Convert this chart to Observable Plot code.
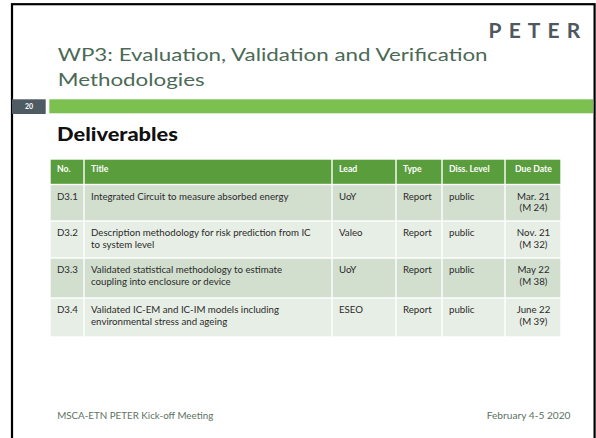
<!DOCTYPE html>
<html><head><meta charset="utf-8">
<script src="https://cdn.jsdelivr.net/npm/d3@7"></script>
<script src="https://cdn.jsdelivr.net/npm/@observablehq/plot@0.6"></script>
<style>
html,body{margin:0;padding:0;background:#fff;}
#chart{width:596px;height:438px;overflow:hidden;}
</style></head><body><div id="chart"></div>
<script>
// ---------- content ----------
const slideTitle = ["WP3: Evaluation, Validation and Verification", "Methodologies"];
const slideNumber = "20";
const sectionHeading = "Deliverables";
const columns = ["No.", "Title", "Lead", "Type", "Diss. Level", "Due Date"];
const numbers = ["D3.1", "D3.2", "D3.3", "D3.4"];
const titles = [
  "Integrated Circuit to measure absorbed energy",
  "Description methodology for risk prediction from IC\nto system level",
  "Validated statistical methodology to estimate\ncoupling into enclosure or device",
  "Validated IC-EM and IC-IM models including\nenvironmental stress and ageing"
];
const leads = ["UoY", "Valeo", "UoY", "ESEO"];
const types = ["Report", "Report", "Report", "Report"];
const levels = ["public", "public", "public", "public"];
const dueDates = ["Mar. 21\n(M 24)", "Nov. 21\n(M 32)", "May 22\n(M 38)", "June 22\n(M 39)"];
const footerLeft = "MSCA-ETN PETER Kick-off Meeting";
const footerRight = "February 4-5 2020";
const logoText = "PETER";

// ---------- layout & style ----------
const W = 596, H = 438;
const FONT = "Lato, 'Open Sans', sans-serif";
const colWidths = [34, 248, 64, 46, 63, 56];
const tableLeft = 50, headerTop = 159, headerHeight = 25.5;
const rowHeights = [36.5, 37, 40, 39];
const colors = {
  title: "#4b6a55", footer: "#5d7263", header: "#5a9d3c", rowDark: "#d2dfcf", rowLight: "#e7eee5",
  bar: "#7cc04f", numBox: "#4f5b63", body: "#2b2b2b", logo: "#4f585e"
};

const colX = [tableLeft];
colWidths.forEach(w => colX.push(colX[colX.length - 1] + w));
const rowY = [headerTop + headerHeight];
rowHeights.forEach(h => rowY.push(rowY[rowY.length - 1] + h));

const rowsData = numbers.map((n, i) => [n, titles[i], leads[i], types[i], levels[i], dueDates[i]]);

const cells = [];
columns.forEach((c, j) => cells.push({x1: colX[j], x2: colX[j + 1], y1: headerTop, y2: headerTop + headerHeight, fill: colors.header}));
rowsData.forEach((row, i) => row.forEach((v, j) => cells.push({
  x1: colX[j], x2: colX[j + 1], y1: rowY[i], y2: rowY[i + 1], fill: i % 2 === 0 ? colors.rowDark : colors.rowLight
})));

const pad = 6.5;
const headerText = columns.map((c, j) => ({
  x: j === 5 ? (colX[j] + colX[j + 1]) / 2 : colX[j] + pad, y: headerTop + 6.7, text: c, center: j === 5
}));
const bodyText = [];
rowsData.forEach((row, i) => row.forEach((v, j) => bodyText.push({
  x: j === 5 ? (colX[j] + colX[j + 1]) / 2 : colX[j] + pad, y: rowY[i] + 6.2, text: v, center: j === 5
})));

const deco = [
  {x1: 49.3, x2: 593, y1: 99.3, y2: 113.3, fill: colors.bar},
  {x1: 12, x2: 45.7, y1: 99.3, y2: 114, fill: colors.numBox}
];

const plot = Plot.plot({
  width: W, height: H, margin: 0,
  x: {domain: [0, W], range: [0, W], axis: null},
  y: {domain: [0, H], range: [0, H], axis: null},
  color: {type: "identity"},
  style: {fontFamily: FONT, background: "transparent"},
  marks: [
    Plot.rect([{x1: 12, x2: 594.6, y1: 4.2, y2: 450}], {x1: "x1", x2: "x2", y1: "y1", y2: "y2", fill: "none", stroke: "#000", strokeWidth: 2.2}),
    Plot.rect(deco, {x1: "x1", x2: "x2", y1: "y1", y2: "y2", fill: "fill"}),
    Plot.text([slideNumber], {x: () => 28.5, y: () => 108.5, text: d => d, fill: "#fff", fontSize: 7, fontWeight: "bold", textAnchor: "middle", lineAnchor: "bottom"}),
    Plot.text([slideTitle[0]], {x: () => 57.3, y: () => 60, text: d => d, fill: colors.title, fontSize: 17.2, textAnchor: "start", lineAnchor: "bottom"}),
    Plot.text([slideTitle[1]], {x: () => 57.3, y: () => 85.5, text: d => d, fill: colors.title, fontSize: 17.2, textAnchor: "start", lineAnchor: "bottom"}),
    Plot.text([logoText], {x: () => 488, y: () => 37, text: d => d, fill: colors.logo, fontSize: 21, fontWeight: "bold", textAnchor: "start", lineAnchor: "bottom"}),
    Plot.text([sectionHeading], {x: () => 56.5, y: () => 140, text: d => d, fill: "#111", fontSize: 19, fontWeight: 900, textAnchor: "start", lineAnchor: "bottom"}),
    Plot.rect(cells, {x1: "x1", x2: "x2", y1: "y1", y2: "y2", fill: "fill", inset: 0.7}),
    Plot.text(headerText.filter(d => !d.center), {x: "x", y: "y", text: "text", fill: "#fff", fontSize: 8.7, fontWeight: "bold", textAnchor: "start", lineAnchor: "top"}),
    Plot.text(headerText.filter(d => d.center), {x: "x", y: "y", text: "text", fill: "#fff", fontSize: 8.7, fontWeight: "bold", textAnchor: "middle", lineAnchor: "top"}),
    Plot.text(bodyText.filter(d => !d.center), {x: "x", y: "y", text: "text", fill: colors.body, fontSize: 9.7, lineHeight: 1.22, textAnchor: "start", lineAnchor: "top"}),
    Plot.text(bodyText.filter(d => d.center), {x: "x", y: "y", text: "text", fill: colors.body, fontSize: 9.7, lineHeight: 1.22, textAnchor: "middle", lineAnchor: "top"}),
    Plot.text([footerLeft], {x: () => 56.7, y: () => 418.3, text: d => d, fill: colors.footer, fontSize: 8.6, textAnchor: "start", lineAnchor: "bottom"}),
    Plot.text([footerRight], {x: () => 570, y: () => 418.3, text: d => d, fill: colors.footer, fontSize: 8.6, textAnchor: "end", lineAnchor: "bottom"})
  ]
});
document.getElementById("chart").appendChild(plot);

// widen a few lines horizontally (the original face is a wide geometric sans)
const fits = [[slideTitle[0], 430], [sectionHeading, 121], [footerLeft, 156], [footerRight, 84]];
let titleScale = 1;
const widen = (t, sx) => t.setAttribute("transform", (t.getAttribute("transform") || "") + ` scale(${sx.toFixed(3)},1)`);
const texts = [...plot.querySelectorAll("text")];
texts.forEach(t => {
  if (t.textContent === logoText) {
    const len = t.getComputedTextLength();
    t.setAttribute("letter-spacing", ((99 - len) / logoText.length).toFixed(2));
    return;
  }
  const f = fits.find(([s]) => s === t.textContent);
  if (!f) return;
  const sx = f[1] / t.getComputedTextLength();
  if (f[0] === slideTitle[0]) titleScale = sx;
  widen(t, sx);
});
texts.filter(t => t.textContent === slideTitle[1]).forEach(t => widen(t, titleScale));
</script></body></html>
